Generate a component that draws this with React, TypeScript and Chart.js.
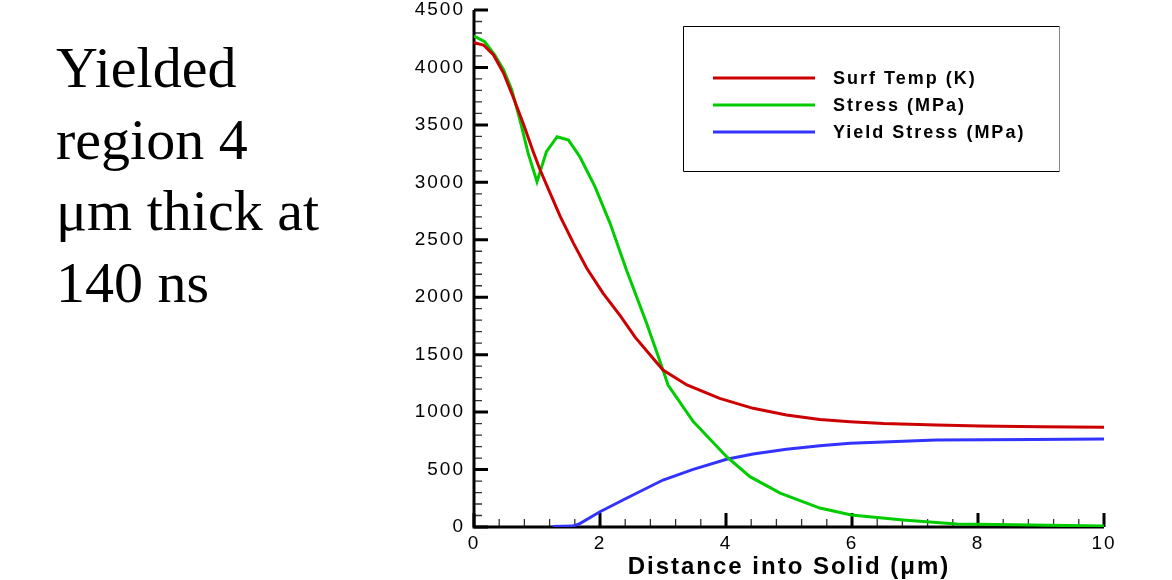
import React, { useEffect, useRef } from "react";
import { Chart, registerables } from "chart.js";

Chart.register(...registerables);

// ---- Data ----
const seriesLabels = ["Surf Temp (K)", "Stress (MPa)", "Yield Stress (MPa)"];
const seriesColors = ["#cc0000", "#00cc00", "#3333ff"];

const tempX = [0, 0.15, 0.31, 0.47, 0.62, 0.78, 0.94, 1.05, 1.21, 1.37, 1.58, 1.79, 2.05, 2.32, 2.56, 3.0, 3.38, 3.9, 4.43, 4.96, 5.49, 5.97, 6.5, 7.34, 8.03, 9.0, 10];
const tempY = [4215, 4195, 4108, 3949, 3745, 3514, 3267, 3107, 2904, 2701, 2469, 2252, 2034, 1840, 1650, 1366, 1236, 1120, 1033, 975, 936, 917, 900, 888, 879, 872, 868];

const stressX = [0, 0.17, 0.33, 0.47, 0.6, 0.73, 0.86, 1.0, 1.15, 1.32, 1.5, 1.68, 1.92, 2.16, 2.42, 2.74, 3.0, 3.08, 3.48, 4.01, 4.38, 4.86, 5.49, 5.99, 6.81, 7.66, 8.87, 10];
const stressY = [4273, 4224, 4108, 3978, 3804, 3542, 3252, 3005, 3267, 3397, 3368, 3223, 2962, 2643, 2237, 1773, 1366, 1236, 917, 612, 438, 295, 165, 104, 61, 26, 17, 8];

const yieldX = [1.25, 1.57, 1.68, 2.0, 2.42, 3.0, 3.48, 4.01, 4.43, 4.96, 5.49, 5.97, 7.34, 8.87, 10];
const yieldY = [5, 8, 30, 133, 250, 409, 502, 590, 635, 676, 708, 728, 757, 762, 766];

const xTicks = [0, 2, 4, 6, 8, 10];
const yTicks = [0, 500, 1000, 1500, 2000, 2500, 3000, 3500, 4000, 4500];
const xMinorStep = 0.4;
const yMinorStep = 100;

const xTitle = "Distance into Solid (\u03bcm)";
const sideText = ["Yielded", "region 4", "\u03bcm thick at", "140 ns"];

const SANS = "'Liberation Sans', Arial, Helvetica, sans-serif";

const toPoints = (xs: number[], ys: number[]) => xs.map((x, i) => ({ x, y: ys[i] }));

const spacingPlugin = {
  id: "tecSpacing",
  beforeDraw(chart: any) {
    (chart.ctx as any).letterSpacing = "2px";
  },
};

const axesPlugin = {
  id: "tecAxes",
  beforeDatasetsDraw(chart: any) {
    const { ctx, scales } = chart;
    const xs = scales.x;
    const ys = scales.y;
    const xMin = xTicks[0];
    const xMax = xTicks[xTicks.length - 1];
    const yMin = yTicks[0];
    const yMax = yTicks[yTicks.length - 1];
    const px0 = xs.getPixelForValue(xMin);
    const px1 = xs.getPixelForValue(xMax);
    const py0 = ys.getPixelForValue(yMin);
    const py1 = ys.getPixelForValue(yMax);
    ctx.save();
    ctx.strokeStyle = "#333";
    ctx.lineWidth = 1.3;
    ctx.beginPath();
    const nxm = Math.round((xMax - xMin) / xMinorStep);
    for (let i = 0; i <= nxm; i++) {
      const p = xs.getPixelForValue(xMin + i * xMinorStep);
      ctx.moveTo(p, py0);
      ctx.lineTo(p, py0 - 8);
    }
    const nym = Math.round((yMax - yMin) / yMinorStep);
    for (let i = 0; i <= nym; i++) {
      const p = ys.getPixelForValue(yMin + i * yMinorStep);
      ctx.moveTo(px0, p);
      ctx.lineTo(px0 + 8, p);
    }
    ctx.stroke();
    ctx.strokeStyle = "#000";
    ctx.lineWidth = 3;
    ctx.beginPath();
    xTicks.forEach((v) => {
      const p = xs.getPixelForValue(v);
      ctx.moveTo(p, py0);
      ctx.lineTo(p, py0 - 14);
    });
    yTicks.forEach((v) => {
      const p = ys.getPixelForValue(v);
      ctx.moveTo(px0, p);
      ctx.lineTo(px0 + 14, p);
    });
    ctx.stroke();
    ctx.beginPath();
    ctx.moveTo(px0, py1);
    ctx.lineTo(px0, py0);
    ctx.lineTo(px1, py0);
    ctx.stroke();
    ctx.restore();
  },
};

const legendPlugin = {
  id: "boxLegend",
  afterDraw(chart: any) {
    const { ctx } = chart;
    const bx = 683.5, by = 26.5, bw = 376, bh = 145;
    ctx.save();
    ctx.fillStyle = "#fff";
    ctx.fillRect(bx, by, bw, bh);
    ctx.strokeStyle = "#000";
    ctx.lineWidth = 1;
    ctx.beginPath();
    ctx.moveTo(bx + bw, by);
    ctx.lineTo(bx, by);
    ctx.lineTo(bx, by + bh);
    ctx.lineTo(bx + bw, by + bh);
    ctx.stroke();
    ctx.strokeStyle = "#888";
    ctx.beginPath();
    ctx.moveTo(bx + bw, by);
    ctx.lineTo(bx + bw, by + bh);
    ctx.stroke();
    ctx.font = `bold 18px ${SANS}`;
    ctx.letterSpacing = "2px";
    ctx.textBaseline = "middle";
    ctx.textAlign = "left";
    chart.data.datasets.forEach((ds: any, i: number) => {
      const yy = 78 + i * 27;
      ctx.strokeStyle = ds.borderColor;
      ctx.lineWidth = 3;
      ctx.beginPath();
      ctx.moveTo(713, yy);
      ctx.lineTo(815, yy);
      ctx.stroke();
      ctx.fillStyle = "#000";
      ctx.fillText(ds.label, 833, yy + 1);
    });
    ctx.restore();
  },
};

export default function App() {
  const ref = useRef<HTMLCanvasElement | null>(null);
  useEffect(() => {
    if (!ref.current) return;
    const chart = new Chart(ref.current, {
      type: "line",
      data: {
        datasets: [
          { label: seriesLabels[0], data: toPoints(tempX, tempY), borderColor: seriesColors[0] },
          { label: seriesLabels[1], data: toPoints(stressX, stressY), borderColor: seriesColors[1] },
          { label: seriesLabels[2], data: toPoints(yieldX, yieldY), borderColor: seriesColors[2] },
        ].map((d) => ({ ...d, borderWidth: 3, pointRadius: 0, tension: 0, fill: false })),
      },
      options: {
        animation: false,
        responsive: false,
        layout: { padding: { left: 0, right: 68, top: 10, bottom: 0 } },
        plugins: { legend: { display: false }, tooltip: { enabled: false } },
        scales: {
          x: {
            type: "linear",
            min: xTicks[0],
            max: xTicks[xTicks.length - 1],
            afterBuildTicks: (s: any) => {
              s.ticks = xTicks.map((v) => ({ value: v }));
            },
            afterFit: (s: any) => {
              s.height = 53;
              s.paddingLeft = 0;
              s.paddingRight = 0;
            },
            grid: { display: false, drawTicks: false },
            border: { display: false },
            ticks: {
              color: "#000",
              font: { family: SANS, size: 19 },
              padding: 5,
              maxRotation: 0,
              callback: (v: any) => String(v),
            },
            title: {
              display: true,
              text: xTitle,
              color: "#000",
              font: { family: SANS, size: 24, weight: "bold" },
              padding: { top: 0, bottom: -2 },
            },
          },
          y: {
            type: "linear",
            min: yTicks[0],
            max: yTicks[yTicks.length - 1],
            afterBuildTicks: (s: any) => {
              s.ticks = yTicks.map((v) => ({ value: v }));
            },
            afterFit: (s: any) => {
              s.width = 474;
              s.paddingTop = 0;
              s.paddingBottom = 0;
            },
            grid: { display: false, drawTicks: false },
            border: { display: false },
            ticks: {
              color: "#000",
              font: { family: SANS, size: 19 },
              padding: 9,
              callback: (v: any) => String(v),
            },
          },
        },
      },
      plugins: [spacingPlugin, axesPlugin, legendPlugin],
    } as any);
    return () => chart.destroy();
  }, []);

  return (
    <div style={{ position: "absolute", left: 0, top: 0, width: 1172, height: 580, background: "#fff" }}>
      <canvas ref={ref} width={1172} height={580} style={{ position: "absolute", left: 0, top: 0 }} />
      <div
        style={{
          position: "absolute",
          left: 56,
          top: 32,
          fontFamily: "'Liberation Serif', 'Times New Roman', serif",
          fontSize: 58,
          lineHeight: "71.5px",
          color: "#000",
          whiteSpace: "nowrap",
        }}
      >
        {sideText.map((t, i) => (
          <div key={i}>{t}</div>
        ))}
      </div>
    </div>
  );
}
